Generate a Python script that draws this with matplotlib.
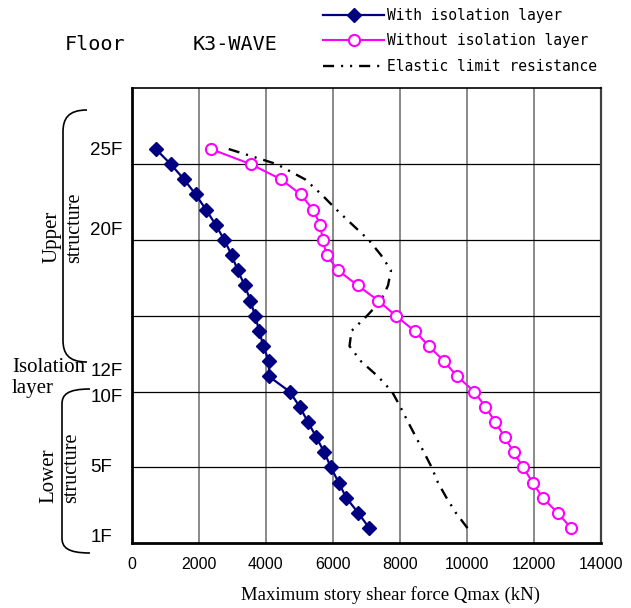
import matplotlib
matplotlib.use("Agg")
import matplotlib.pyplot as plt
from matplotlib.path import Path
from matplotlib.patches import PathPatch

W, H = 631, 608

# ---- data (floor index 1..26, bottom to top) ----
floor_index = list(range(1, 27))
with_isolation = [7092, 6764, 6406, 6179, 5949, 5749, 5510, 5262, 5015, 4716,
                  4098, 4098, 3928, 3809, 3680, 3546, 3373, 3164, 2985, 2764,
                  2507, 2218, 1910, 1561, 1164, 716]
without_isolation = [13122, 12716, 12268, 11970, 11689, 11403, 11134, 10854, 10555, 10227,
                     9719, 9322, 8874, 8445, 7883, 7361, 6746, 6158, 5821, 5701,
                     5630, 5412, 5045, 4457, 3552, 2358]
elastic_limit = [10024, 9680, 9397, 9143, 8955, 8725, 8486, 8248, 8018, 7770,
                 7352, 6845, 6501, 6561, 7024, 7442, 7651, 7740, 7442, 7077,
                 6591, 6113, 5666, 5173, 4330, 2890]
x_ticks = [0, 2000, 4000, 6000, 8000, 10000, 12000, 14000]
floor_labels = ["25F", "20F", "12F", "10F", "5F", "1F"]
floor_label_pos = [25.9, 20.6, 11.3, 9.6, 5.0, 0.35]
series_names = ["With isolation layer", "Without isolation layer", "Elastic limit resistance"]

plt.rcParams['lines.scale_dashes'] = False
fig = plt.figure(figsize=(W / 100, H / 100), dpi=100)
ax = fig.add_axes([131.7 / W, 1 - 543.3 / H, 469 / W, 455 / H])

def px(x, y):
    return (x / W, 1 - y / H)

l1, = ax.plot(with_isolation, floor_index, color='#000080', lw=1.6, marker='D',
              ms=7.2, mfc='#000080', mec='#000080', label=series_names[0], zorder=4)
l2, = ax.plot(without_isolation, floor_index, color='#ff00ff', lw=1.5, marker='o',
              ms=8, mfc='white', mec='#ff00ff', mew=1.5, label=series_names[1], zorder=4)
l3, = ax.plot(elastic_limit, floor_index, color='black', lw=1.7,
              dashes=[8, 5, 1.5, 5, 1.5, 5], label=series_names[2], zorder=3)

ax.set_xlim(0, 14000)
ax.set_ylim(0, 30)
ax.set_xticks(x_ticks)
ax.set_xticklabels([str(v) for v in x_ticks], fontfamily='Liberation Sans', fontsize=11.5)
ax.set_yticks([5, 10, 15, 20, 25])
ax.set_yticklabels([])
ax.tick_params(axis='both', length=0, pad=10)
for v in x_ticks[1:-1]:
    ax.axvline(v, color='#808080', lw=1.3, zorder=1)
for v in [5, 10, 15, 20, 25]:
    ax.axhline(v, color='black', lw=0.9, zorder=1)
ax.spines['left'].set_linewidth(2.0)
ax.spines['bottom'].set_linewidth(2.0)
ax.spines['top'].set_linewidth(1.2)
ax.spines['right'].set_linewidth(1.6)
ax.spines['right'].set_color('#404040')

ax.set_xlabel("Maximum story shear force Qmax (kN)", fontfamily='Liberation Serif',
              fontsize=13.5)
ax.xaxis.label.set_va('center')
ax.xaxis.set_label_coords((391 - 131.7) / 469, (543.3 - 595) / 455)

# floor labels
for lab, pos in zip(floor_labels, floor_label_pos):
    ax.text(-0.088, pos, lab, transform=ax.get_yaxis_transform(), ha='left', va='center',
            fontfamily='Liberation Sans', fontsize=13.5)

# header texts
fig.text(*px(65, 44), "Floor", fontfamily='DejaVu Sans Mono', fontsize=14.5, va='center', ha='left')
fig.text(*px(193, 44), "K3-WAVE", fontfamily='DejaVu Sans Mono', fontsize=14.5, va='center', ha='left')

# structure annotations
serif = 'Liberation Serif'
fig.text(*px(52, 263), "Upper", rotation=90, fontfamily=serif, fontsize=15, ha='center', va='bottom')
fig.text(*px(75, 263), "structure", rotation=90, fontfamily=serif, fontsize=14.5, ha='center', va='bottom')
fig.text(*px(49, 503), "Lower", rotation=90, fontfamily=serif, fontsize=15, ha='center', va='bottom')
fig.text(*px(72, 503), "structure", rotation=90, fontfamily=serif, fontsize=14.5, ha='center', va='bottom')
fig.text(*px(12, 367), "Isolation", fontfamily=serif, fontsize=15, ha='left', va='center')
fig.text(*px(12, 388), "layer", fontfamily=serif, fontsize=15, ha='left', va='center')

def brace(x_end, y_top, x_v, y_bot, r):
    verts = [px(x_end, y_top), px(x_v + 5, y_top), px(x_v, y_top + r * 0.4), px(x_v, y_top + r),
             px(x_v, y_bot - r),
             px(x_v, y_bot - r * 0.4), px(x_v + 5, y_bot), px(x_end, y_bot)]
    codes = [Path.MOVETO, Path.CURVE4, Path.CURVE4, Path.CURVE4, Path.LINETO,
             Path.CURVE4, Path.CURVE4, Path.CURVE4]
    fig.add_artist(PathPatch(Path(verts, codes), fill=False, lw=1.2, color='black',
                             transform=fig.transFigure))

brace(87, 110, 63, 362, 22)
brace(90, 389, 62, 553, 15)

# legend
fig.legend(handles=[l1, l2, l3], loc='upper left', bbox_to_anchor=px(323, 8),
           frameon=False, borderpad=0, borderaxespad=0, handlelength=4.2,
           handletextpad=0.2, labelspacing=0.72, numpoints=1,
           prop={'family': 'DejaVu Sans Mono', 'size': 10.5})

fig.savefig("out.png", dpi=100)
